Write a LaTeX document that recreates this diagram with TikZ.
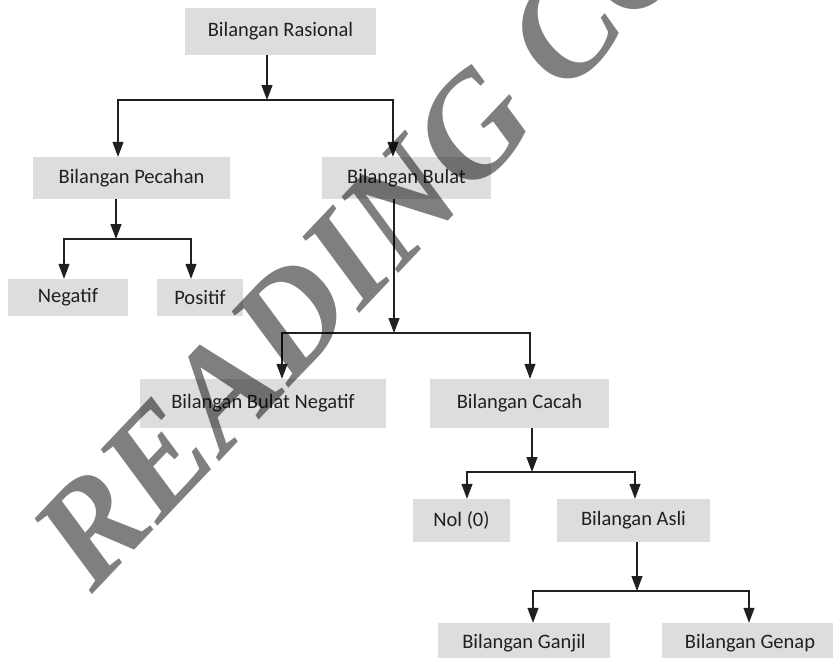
\documentclass[tikz,border=0pt]{standalone}
\usepackage{fontspec}
\setmainfont{Carlito}
\newfontfamily\markfont{Liberation Serif}
\usetikzlibrary{arrows.meta}
\definecolor{boxgray}{HTML}{DCDDDE}
\definecolor{ink}{HTML}{231F20}

\begin{document}
\begin{tikzpicture}[x=1pt,y=-1pt,
		box/.style={fill=boxgray,text=ink,inner sep=0pt,font=\fontsize{20.5}{24}\selectfont},
		arr/.style={-{Triangle[length=15pt,width=11pt]},line width=1.2pt,draw=ink},
		bar/.style={line width=1.2pt,line cap=rect,draw=ink}]
		\useasboundingbox (0,0) rectangle (833,657);
		\clip (0,0) rectangle (833,657);
		% BOXES
		\node [box,minimum width=191pt,minimum height=47pt] (rasional) at (280.5,31.5) {Bilangan Rasional};
		\node [box,minimum width=197pt,minimum height=42pt] (pecahan) at (131.5,178) {Bilangan Pecahan};
		\node [box,minimum width=169pt,minimum height=42pt] (bulat) at (406.5,178) {Bilangan Bulat};
		\node [box,minimum width=120pt,minimum height=37pt] (negatif) at (68,297.5) {Negatif};
		\node [box,minimum width=86pt,minimum height=37pt] (positif) at (200,297.5) {Positif};
		\node [box,minimum width=246pt,minimum height=49pt] (bulatneg) at (263,403.5) {Bilangan Bulat Negatif};
		\node [box,minimum width=179pt,minimum height=49pt] (cacah) at (519.5,403.5) {Bilangan Cacah};
		\node [box,minimum width=97pt,minimum height=43pt] (nol) at (461.5,520.5) {Nol (0)};
		\node [box,minimum width=153pt,minimum height=43pt] (asli) at (633.5,520.5) {Bilangan Asli};
		\node [box,minimum width=172pt,minimum height=40pt] (ganjil) at (524,643) {Bilangan Ganjil};
		\node [box,minimum width=176pt,minimum height=40pt] (genap) at (750,643) {Bilangan Genap};
		% RASIONAL
		\coordinate (j1) at (267,100);
		\coordinate (j1l) at (118,100);
		\coordinate (j1r) at (393,100);
		\draw [arr] (rasional.south -| j1) -- (j1);
		\draw [bar] (j1l) -- (j1r);
		\draw [arr] (j1l) -- (j1l |- pecahan.north);
		\draw [arr] (j1r) -- (j1r |- bulat.north);
		% PECAHAN
		\coordinate (j2) at (116,239);
		\coordinate (j2l) at (64,239);
		\coordinate (j2r) at (191,239);
		\draw [arr] (pecahan.south -| j2) -- (j2);
		\draw [bar] (j2l) -- (j2r);
		\draw [arr] (j2l) -- (j2l |- negatif.north);
		\draw [arr] (j2r) -- (j2r |- positif.north);
		% BULAT
		\coordinate (j3) at (394,333);
		\coordinate (j3l) at (282,333);
		\coordinate (j3r) at (530,333);
		\draw [arr] (bulat.south -| j3) -- (j3);
		\draw [bar] (j3l) -- (j3r);
		\draw [arr] (j3l) -- (j3l |- bulatneg.north);
		\draw [arr] (j3r) -- (j3r |- cacah.north);
		% CACAH
		\coordinate (j4) at (532,472);
		\coordinate (j4l) at (467,472);
		\coordinate (j4r) at (635,472);
		\draw [arr] (cacah.south -| j4) -- (j4);
		\draw [bar] (j4l) -- (j4r);
		\draw [arr] (j4l) -- (j4l |- nol.north);
		\draw [arr] (j4r) -- (j4r |- asli.north);
		% ASLI
		\coordinate (j5) at (637,591);
		\coordinate (j5l) at (533,591);
		\coordinate (j5r) at (749,591);
		\draw [arr] (asli.south -| j5) -- (j5);
		\draw [bar] (j5l) -- (j5r);
		\draw [arr] (j5l) -- (j5l |- ganjil.north);
		\draw [arr] (j5r) -- (j5r |- genap.north);
		% WATERMARK
		\node [rotate=46.5,text=black,text opacity=0.5,inner sep=0pt,
			font=\markfont\bfseries\itshape\fontsize{143}{150}\selectfont] (mark) at (424,178) {READING COPY};
\end{tikzpicture}
\end{document}
